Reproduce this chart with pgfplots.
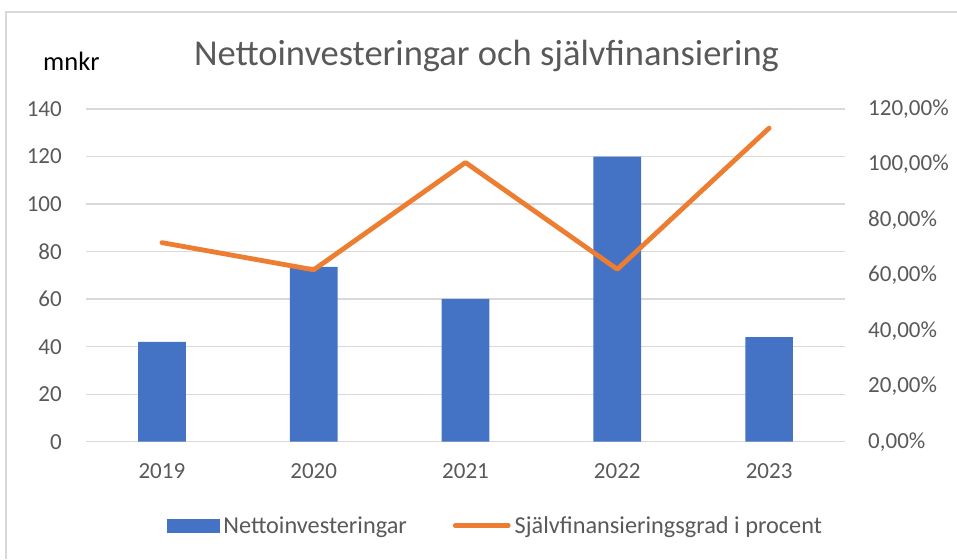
\documentclass[border=0pt]{standalone}
\usepackage{pgfplots}
\pgfplotsset{compat=1.18}
\usepackage{fontspec}
\setmainfont{Carlito}
\definecolor{barblue}{HTML}{4472C4}
\definecolor{lineorange}{HTML}{ED7D31}
\definecolor{txtgray}{HTML}{595959}
\definecolor{gridgray}{HTML}{D9D9D9}
\begin{document}
\begin{tikzpicture}
\useasboundingbox (0pt,0pt) rectangle (957pt,559pt);
\draw[gridgray, line width=1.2pt] (6pt,0pt) -- (6pt,547pt) -- (957pt,547pt);
\node[anchor=base, text=txtgray, font=\fontsize{36.5}{42}\selectfont] at (486.5pt,493pt) {Nettoinvesteringar och självfinansiering};
\node[anchor=base west, inner sep=0pt, text=black, font=\fontsize{26.5}{30}\selectfont] at (43pt,488.3pt) {mnkr};
\begin{axis}[
  at={(86pt,117.3pt)}, anchor=south west,
  scale only axis, width=759pt, height=332.7pt,
  xmin=-0.5, xmax=4.5, ymin=0, ymax=140,
  xtick={0,1,2,3,4}, xticklabels={2019,2020,2021,2022,2023},
  ytick={0,20,...,140}, yticklabels={0,20,40,60,80,100,120,140},
  axis line style={draw=none}, major tick length=0pt,
  ymajorgrids, grid style={gridgray, line width=1.3pt},
  ticklabel style={text=txtgray, font=\fontsize{23}{27}\selectfont, inner sep=0pt},
  yticklabel style={anchor=east, xshift=-24pt},
  xticklabel style={anchor=north, yshift=-22pt},
  clip=false,
]
\addplot[ybar, bar width=47.7pt, fill=barblue, draw=none] coordinates {(0,42.0) (1,73.6) (2,60.1) (3,120.0) (4,44.0)};
\end{axis}
\begin{axis}[
  at={(86pt,117.3pt)}, anchor=south west,
  scale only axis, width=759pt, height=332.7pt,
  xmin=-0.5, xmax=4.5, ymin=0, ymax=120,
  xtick=\empty, axis x line=none,
  axis y line*=right,
  ytick={0,20,...,120}, yticklabels={{0,00\%},{20,00\%},{40,00\%},{60,00\%},{80,00\%},{100,00\%},{120,00\%}},
  axis line style={draw=none}, major tick length=0pt,
  ticklabel style={text=txtgray, font=\fontsize{23}{27}\selectfont, inner sep=0pt},
  yticklabel style={anchor=west, xshift=23pt},
  clip=false,
  legend style={draw=none, fill=none, at={(0.5395,-0.2526)}, anchor=center,
    font=\fontsize{24.3}{28}\selectfont, text=txtgray,
    /tikz/every even column/.append style={column sep=44pt},
    /tikz/every odd column/.append style={column sep=2pt},
    inner sep=0pt, row sep=0pt},
  legend columns=2,
  legend cell align=left,
]
\addlegendimage{legend image code/.code={\fill[barblue] (0pt,-6.2pt) rectangle (52pt,6.2pt);}}
\addlegendentry{Nettoinvesteringar}
\addplot[lineorange, line width=4.8pt, line cap=round, line join=round, mark=none,
  legend image code/.code={\draw[lineorange, line width=4.8pt, line cap=round] (2pt,0pt) -- (55pt,0pt);}]
  coordinates {(0,71.8) (1,62.0) (2,100.7) (3,62.2) (4,113.1)};
\addlegendentry{Självfinansieringsgrad i procent}
\end{axis}
\end{tikzpicture}
\end{document}
